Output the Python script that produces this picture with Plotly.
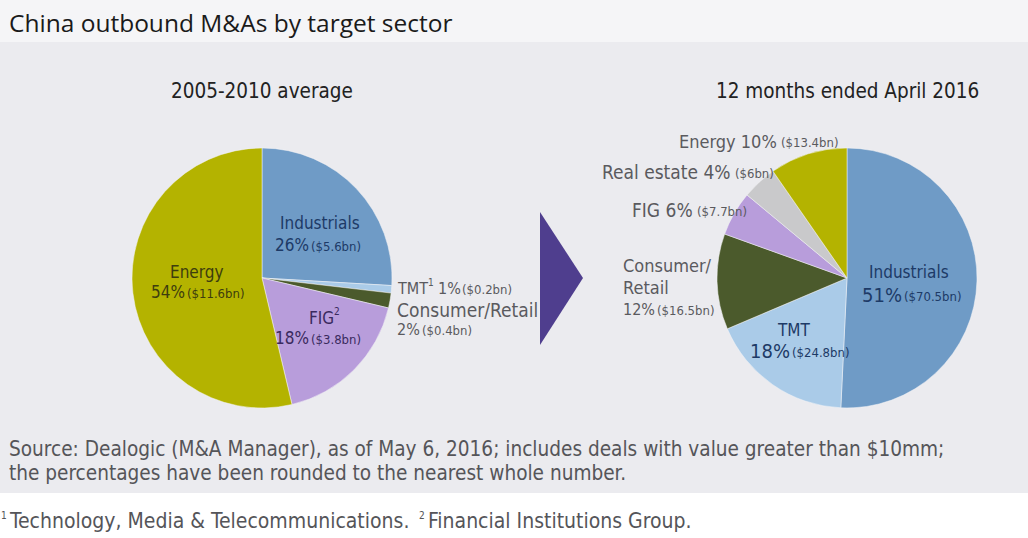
import plotly.graph_objects as go

W, H = 1028, 538

# ---- data ----
p1_labels = ["Industrials", "TMT", "Consumer/Retail", "FIG", "Energy"]
p1_pct = [26, 1, 2, 18, 54]
p1_vals = [5.6, 0.2, 0.4, 3.8, 11.6]
p1_colors = ["#6f9bc6", "#aacbe8", "#4b5a2c", "#b89ddb", "#b4b300"]

p2_labels = ["Industrials", "TMT", "Consumer/Retail", "FIG", "Real estate", "Energy"]
p2_pct = [51, 18, 12, 6, 4, 10]
p2_vals = [70.5, 24.8, 16.5, 7.7, 6.0, 13.4]
p2_colors = ["#6f9bc6", "#aacbe8", "#4b5a2c", "#b89ddb", "#c9c9cb", "#b4b300"]

titles = ["2005-2010 average", "12 months ended April 2016"]

COND = "DejaVu Sans Condensed, Liberation Sans Narrow, sans-serif"


def px(x):
    return x / W


def py(y):
    return 1 - y / H


def dom(cx, cy, r):
    return dict(x=[px(cx - r), px(cx + r)], y=[py(cy + r), py(cy - r)])


fig = go.Figure()
fig.add_trace(go.Pie(labels=p1_labels, values=p1_vals, sort=False, direction="clockwise",
                     marker=dict(colors=p1_colors, line=dict(color="#f4f4f6", width=0.5)),
                     textinfo="none", domain=dom(262, 278, 130), showlegend=False))
fig.add_trace(go.Pie(labels=p2_labels, values=p2_vals, sort=False, direction="clockwise",
                     marker=dict(colors=p2_colors, line=dict(color="#f4f4f6", width=0.5)),
                     textinfo="none", domain=dom(847, 278, 130), showlegend=False))

shapes = [
    dict(type="rect", xref="paper", yref="paper", x0=0, x1=1, y0=py(538), y1=py(493),
         fillcolor="white", line=dict(width=0), layer="below"),
    dict(type="rect", xref="paper", yref="paper", x0=0, x1=1, y0=py(493), y1=py(42),
         fillcolor="#ebebef", line=dict(width=0), layer="below"),
    dict(type="path", xref="paper", yref="paper",
         path=f"M {px(540)} {py(212)} L {px(583)} {py(278)} L {px(540)} {py(345)} Z",
         fillcolor="#4f3e8e", line=dict(width=0)),
]

ann = []


def A(x, y, text, size, color, xanchor="center", family=COND):
    ann.append(dict(x=px(x), y=py(y), xref="paper", yref="paper", text=text, showarrow=False,
                    xanchor=xanchor, yanchor="middle", borderpad=0,
                    font=dict(size=size, color=color, family=family)))


def money(v):
    return f"(${v:g}bn)"


def pct(p):
    return f"{p}%"


grey = "#5a5a5e"
inner_blue = "#1d3a66"
inner_olive = "#3d3d0e"
inner_purple = "#3a2a5e"
MS = 13  # money text size

# Titles
A(8, 22, "China outbound M&As by target sector", 24.5, "#1a1a1a", "left", "Open Sans, DejaVu Sans, sans-serif")
A(262, 91, titles[0], 20.5, "#222222")
A(847, 91, titles[1], 20.5, "#222222")

# ---- Pie 1 labels ----
A(320, 223, p1_labels[0], 17, inner_blue)
A(310, 245, pct(p1_pct[0]), 17, inner_blue, "right")
A(310, 246, money(p1_vals[0]), MS, inner_blue, "left")

A(197, 272, p1_labels[4], 17, inner_olive)
A(186, 292, pct(p1_pct[4]), 17, inner_olive, "right")
A(186, 293, money(p1_vals[4]), MS, inner_olive, "left")

A(335, 318, p1_labels[3], 17, inner_purple, "right")
A(333, 311, "2", 10, inner_purple, "left")
A(310, 338, pct(p1_pct[3]), 17, inner_purple, "right")
A(310, 339, money(p1_vals[3]), MS, inner_purple, "left")

A(396, 288, p1_labels[1], 16, grey, "left")
A(427, 282, "1", 10, grey, "left")
A(437, 288, pct(p1_pct[1]), 16, grey, "left")
A(461, 289, money(p1_vals[1]), MS, grey, "left")
A(396, 310, p1_labels[2], 19, grey, "left")
A(396, 329, pct(p1_pct[2]), 16, grey, "left")
A(421, 330, money(p1_vals[2]), MS, grey, "left")

# ---- Pie 2 labels ----
A(778, 141, f"{p2_labels[5]} {pct(p2_pct[5])}", 18, grey, "right")
A(780, 142, money(p2_vals[5]), MS, grey, "left")
A(732, 172, f"{p2_labels[4]} {pct(p2_pct[4])}", 19, grey, "right")
A(734, 173, money(p2_vals[4]), MS, grey, "left")
A(694, 210, f"{p2_labels[3]} {pct(p2_pct[3])}", 19, grey, "right")
A(696, 211, money(p2_vals[3]), MS, grey, "left")
A(622, 266, "Consumer/", 18, grey, "left")
A(622, 287, "Retail", 18, grey, "left")
A(622, 309, pct(p2_pct[2]), 16, grey, "left")
A(656, 310, money(p2_vals[2]), MS, grey, "left")

A(909, 272, p2_labels[0], 17, inner_blue)
A(903, 295, pct(p2_pct[0]), 20, inner_blue, "right")
A(903, 296, money(p2_vals[0]), MS, inner_blue, "left")
A(794, 330, p2_labels[1], 17, inner_blue)
A(791, 351, pct(p2_pct[1]), 20, inner_blue, "right")
A(791, 352, money(p2_vals[1]), MS, inner_blue, "left")

# ---- Source / footnotes ----
src = "#555559"
A(8, 449, "Source: Dealogic (M&A Manager), as of May 6, 2016; includes deals with value greater than $10mm;", 20.6, src, "left")
A(8, 473, "the percentages have been rounded to the nearest whole number.", 20.6, src, "left")
A(0, 515, "1", 10, src, "left")
A(8, 521, "Technology, Media & Telecommunications.", 21, src, "left")
A(418, 515, "2", 10, src, "left")
A(427, 521, "Financial Institutions Group.", 21, src, "left")

fig.update_layout(width=W, height=H, margin=dict(l=0, r=0, t=0, b=0),
                  paper_bgcolor="#f5f5f7", plot_bgcolor="#f5f5f7",
                  shapes=shapes, annotations=ann)
fig.write_html("out.html", config={"displayModeBar": False},
               post_script="document.body.style.margin='0';document.body.style.padding='0';document.body.style.overflow='hidden';")
